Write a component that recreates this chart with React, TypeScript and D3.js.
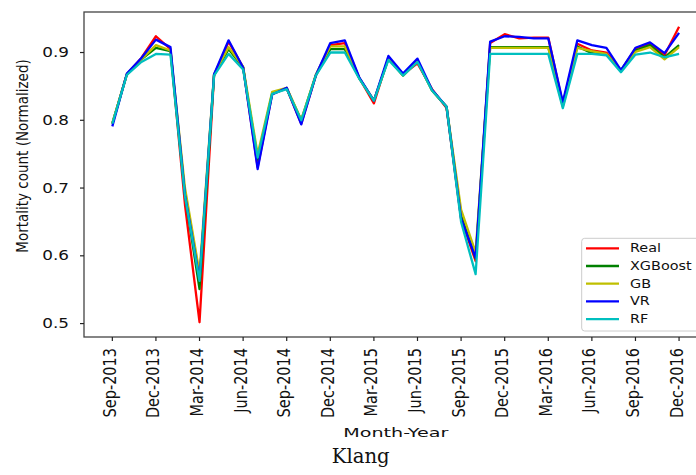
import React from "react";
import * as d3 from "d3";

// Monthly series, Sep-2013 .. Dec-2016 (40 months)
const monthLabels: string[] = [
  "Sep-2013", "Oct-2013", "Nov-2013", "Dec-2013", "Jan-2014", "Feb-2014", "Mar-2014", "Apr-2014",
  "May-2014", "Jun-2014", "Jul-2014", "Aug-2014", "Sep-2014", "Oct-2014", "Nov-2014", "Dec-2014",
  "Jan-2015", "Feb-2015", "Mar-2015", "Apr-2015", "May-2015", "Jun-2015", "Jul-2015", "Aug-2015",
  "Sep-2015", "Oct-2015", "Nov-2015", "Dec-2015", "Jan-2016", "Feb-2016", "Mar-2016", "Apr-2016",
  "May-2016", "Jun-2016", "Jul-2016", "Aug-2016", "Sep-2016", "Oct-2016", "Nov-2016", "Dec-2016",
];

const realValues = [
  0.795, 0.868, 0.892, 0.924, 0.905, 0.675, 0.502, 0.866, 0.916, 0.878,
  0.731, 0.839, 0.847, 0.795, 0.866, 0.911, 0.914, 0.862, 0.825, 0.893,
  0.868, 0.884, 0.846, 0.818, 0.655, 0.592, 0.914, 0.927, 0.921, 0.922,
  0.922, 0.824, 0.913, 0.903, 0.900, 0.873, 0.906, 0.913, 0.896, 0.938,
];
const xgboostValues = [
  0.795, 0.868, 0.890, 0.907, 0.902, 0.690, 0.551, 0.867, 0.905, 0.878,
  0.742, 0.840, 0.847, 0.800, 0.866, 0.905, 0.905, 0.862, 0.829, 0.891,
  0.866, 0.887, 0.844, 0.820, 0.660, 0.596, 0.908, 0.908, 0.908, 0.908,
  0.908, 0.822, 0.909, 0.899, 0.897, 0.874, 0.903, 0.911, 0.893, 0.911,
];
const gbValues = [
  0.796, 0.868, 0.890, 0.911, 0.903, 0.700, 0.575, 0.868, 0.908, 0.879,
  0.750, 0.842, 0.848, 0.801, 0.867, 0.909, 0.909, 0.862, 0.829, 0.891,
  0.866, 0.887, 0.844, 0.820, 0.668, 0.605, 0.907, 0.907, 0.907, 0.907,
  0.907, 0.820, 0.907, 0.902, 0.898, 0.873, 0.901, 0.908, 0.890, 0.908,
];
const vrValues = [
  0.791, 0.869, 0.892, 0.919, 0.908, 0.690, 0.565, 0.868, 0.918, 0.878,
  0.728, 0.838, 0.848, 0.794, 0.866, 0.914, 0.918, 0.863, 0.829, 0.895,
  0.869, 0.891, 0.845, 0.820, 0.655, 0.597, 0.916, 0.924, 0.923, 0.921,
  0.921, 0.827, 0.918, 0.911, 0.907, 0.874, 0.907, 0.915, 0.899, 0.929,
];
const rfValues = [
  0.795, 0.867, 0.886, 0.898, 0.897, 0.688, 0.563, 0.866, 0.898, 0.875,
  0.745, 0.839, 0.846, 0.800, 0.866, 0.900, 0.900, 0.861, 0.829, 0.889,
  0.866, 0.886, 0.844, 0.820, 0.650, 0.573, 0.898, 0.898, 0.898, 0.898,
  0.898, 0.818, 0.898, 0.898, 0.896, 0.871, 0.897, 0.900, 0.893, 0.898,
];

const seriesNames = ["Real", "XGBoost", "GB", "VR", "RF"];
const seriesColors = ["#ff0000", "#008000", "#bfbf00", "#0000ff", "#00bfbf"];
const seriesValues = [realValues, xgboostValues, gbValues, vrValues, rfValues];

const xTickLabels = [
  "Sep-2013", "Dec-2013", "Mar-2014", "Jun-2014", "Sep-2014", "Dec-2014", "Mar-2015",
  "Jun-2015", "Sep-2015", "Dec-2015", "Mar-2016", "Jun-2016", "Sep-2016", "Dec-2016",
];
const yTickValues = [0.5, 0.6, 0.7, 0.8, 0.9];

const W = 696;
const H = 475;
const plot = { left: 84, right: 707.4, top: 12, bottom: 337 };
const SX = 1.2; // horizontal glyph stretch
const FONT = "'DejaVu Sans', sans-serif";

export default function App() {
  const n = monthLabels.length;
  const xPad = (n - 1) * 0.05;
  const x = d3.scaleLinear().domain([-xPad, n - 1 + xPad]).range([plot.left, plot.right]);

  const all = seriesValues.flat();
  const [lo, hi] = d3.extent(all) as [number, number];
  const yPad = (hi - lo) * 0.05;
  const y = d3.scaleLinear().domain([lo - yPad, hi + yPad]).range([plot.bottom, plot.top]);

  const line = d3
    .line<number>()
    .x((_, i) => x(i))
    .y((d) => y(d));

  const legendX = 581.7;
  const legendY = 238.3;
  const rowGap = 17.7;

  return (
    <div style={{ position: "fixed", left: 0, top: 0 }}>
      <svg width={W} height={H} style={{ display: "block", overflow: "hidden" }}>
        <rect x={0} y={0} width={W} height={H} fill="#fff" />

        {/* series */}
        {seriesValues.map((vals, k) => (
          <path
            key={seriesNames[k]}
            d={line(vals) || ""}
            fill="none"
            stroke={seriesColors[k]}
            strokeWidth={2.3}
            strokeLinejoin="round"
          />
        ))}

        {/* frame */}
        <rect
          x={plot.left}
          y={plot.top}
          width={plot.right - plot.left}
          height={plot.bottom - plot.top}
          fill="none"
          stroke="#444"
          strokeWidth={1.3}
        />

        {/* y axis */}
        {yTickValues.map((v) => (
          <g key={v}>
            <line x1={plot.left - 4} x2={plot.left} y1={y(v)} y2={y(v)} stroke="#222" strokeWidth={1.2} />
            <text
              transform={`translate(69,${y(v)}) scale(${SX},1)`}
              textAnchor="end"
              dominantBaseline="central"
              fontFamily={FONT}
              fontSize={14}
              fill="#111"
            >
              {v.toFixed(1)}
            </text>
          </g>
        ))}
        <text
          transform={`translate(28,156) scale(${SX},1) rotate(-90)`}
          textAnchor="middle"
          fontFamily={FONT}
          fontSize={13.5}
          fill="#111"
        >
          Mortality count (Normalized)
        </text>

        {/* x axis */}
        {xTickLabels.map((lab) => {
          const i = monthLabels.indexOf(lab);
          const tx = x(i);
          return (
            <g key={lab}>
              <line x1={tx} x2={tx} y1={plot.bottom} y2={plot.bottom + 4} stroke="#222" strokeWidth={1.2} />
              <text
                transform={`translate(${tx + 3.5},348) scale(${SX},1) rotate(-90)`}
                textAnchor="end"
                fontFamily={FONT}
                fontSize={14.5}
                fill="#111"
              >
                {lab}
              </text>
            </g>
          );
        })}
        <text
          x={395.8}
          y={436.5}
          textAnchor="middle"
          fontFamily={FONT}
          fontSize={13}
          textLength={105}
          lengthAdjust="spacingAndGlyphs"
          fill="#111"
        >
          Month-Year
        </text>

        {/* legend */}
        <rect
          x={legendX}
          y={legendY}
          width={130}
          height={92.7}
          rx={3}
          fill="#fff"
          fillOpacity={0.85}
          stroke="#cccccc"
          strokeWidth={1}
        />
        {seriesNames.map((name, k) => {
          const ly = legendY + 10 + k * rowGap;
          return (
            <g key={name}>
              <line x1={586} x2={619} y1={ly} y2={ly} stroke={seriesColors[k]} strokeWidth={2.3} />
              <text
                transform={`translate(630,${ly}) scale(${SX},1)`}
                dominantBaseline="central"
                fontFamily={FONT}
                fontSize={12}
                fill="#111"
              >
                {name}
              </text>
            </g>
          );
        })}

        {/* caption */}
        <text
          x={331.7}
          y={462.7}
          fontFamily="'DejaVu Serif', serif"
          fontSize={19.6}
          textLength={58}
          lengthAdjust="spacingAndGlyphs"
          fill="#111"
        >
          Klang
        </text>
      </svg>
    </div>
  );
}
